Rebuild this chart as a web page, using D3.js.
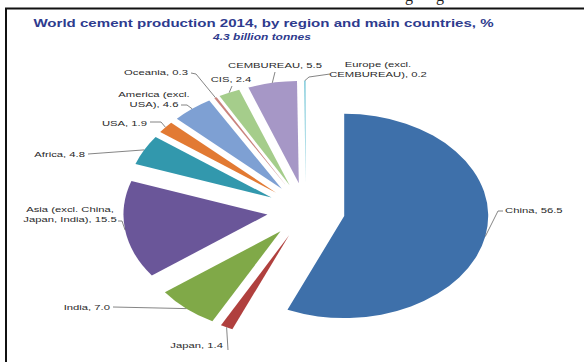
<!DOCTYPE html>
<html>
<head>
<meta charset="utf-8">
<script src="https://cdn.jsdelivr.net/npm/d3@7"></script>
<style>
    body { margin: 0; background: #fff; }
    svg { display: block; font-family: "Liberation Sans", Arial, sans-serif; }
</style>
</head>
<body>
<svg id="chart" width="584" height="362"></svg>
<script>
let regions = ["China", "Japan", "India", "Asia (excl. China, Japan, India)", "Africa", "USA",
    "America (excl. USA)", "Oceania", "CIS", "CEMBUREAU", "Europe (excl. CEMBUREAU)"];
let shares = [56.5, 1.4, 7.0, 15.5, 4.8, 1.9, 4.6, 0.3, 2.4, 5.5, 0.2];
let labelLines = [["China"], ["Japan"], ["India"], ["Asia (excl. China,", "Japan, India)"], ["Africa"], ["USA"],
    ["America (excl.", "USA)"], ["Oceania"], ["CIS"], ["CEMBUREAU"], ["Europe (excl.", "CEMBUREAU)"]];
let colors = ["#3e70aa", "#b0403e", "#80a948", "#6a5699", "#3298ad", "#e27a33",
    "#7ea0d3", "#c9837d", "#a5cd8b", "#a697c6", "#92d2e0"];

let title = "World cement production 2014, by region and main countries, %";
let subtitle = "4.3 billion tonnes";

// where each label sits and the bends of its leader line (screen px)
let labelPos = [
    { x: 505, y: 213, anchor: "start", bend: [[498, 211], [503, 211]] },
    { x: 223, y: 348, anchor: "end", bend: [[228, 350]] },
    { x: 110, y: 310, anchor: "end", bend: [[113, 307]] },
    { x: 70, y: 212, anchor: "middle", bend: [[122, 221], [118, 221]] },
    { x: 85, y: 157, anchor: "end", bend: [[88, 154]] },
    { x: 147, y: 126, anchor: "end", bend: [[161, 122], [150, 122]] },
    { x: 154, y: 97, anchor: "middle", bend: [[187, 105], [181, 105]] },
    { x: 188, y: 75, anchor: "end", bend: [[196, 74], [191, 73]] },
    { x: 231, y: 82, anchor: "middle", bend: [[232, 86]] },
    { x: 275, y: 68, anchor: "middle", bend: [[275, 72]] },
    { x: 378, y: 67, anchor: "middle", bend: [[309, 77], [330, 74]] }
];

function render() {
    let svg = d3.select("#chart");
    let stretch = 1.41;      // the source picture is stretched sideways
    let k = 1 / stretch;     // so the pie is squashed vertically
    let cx = 306, cy = 210.4, R = 144, explode = 39;

    svg.append("rect").attr("width", 584).attr("height", 362).attr("fill", "#fff");

    // frame of the scanned page
    svg.append("line").attr("x1", 5).attr("x2", 584).attr("y1", 8.5).attr("y2", 8.5)
        .attr("stroke", "#111").attr("stroke-width", 2);
    svg.append("line").attr("x1", 6).attr("x2", 6).attr("y1", 8).attr("y2", 362)
        .attr("stroke", "#111").attr("stroke-width", 2);

    // bits of the previous text line, cut off
    let cut = svg.append("text").attr("y", 1).attr("font-family", "Liberation Serif, serif")
        .attr("font-size", 16).attr("fill", "#222");
    cut.append("tspan").attr("x", 405).text("g");
    cut.append("tspan").attr("x", 436).text("g");

    function stretchedText(x, y, anchor) {
        return svg.append("g")
            .attr("transform", "translate(" + x + "," + y + ") scale(" + stretch + ",1)")
            .append("text")
            .style("text-anchor", anchor);
    }

    stretchedText(263.5, 27, "middle")
        .attr("font-size", "10.7px").attr("font-weight", "bold").attr("fill", "#2e3b8e")
        .text(title);
    stretchedText(262, 40, "middle")
        .attr("font-size", "8.5px").attr("font-weight", "bold").attr("font-style", "italic")
        .attr("fill", "#2e3b8e")
        .text(subtitle);

    let pie = d3.pie().sort(null).value(d => d);
    let arcs = pie(shares);
    let arc = d3.arc().innerRadius(0).outerRadius(R);

    let g = svg.append("g")
        .attr("transform", "translate(" + cx + "," + cy + ") scale(1," + k + ")");

    g.selectAll("path")
        .data(arcs)
        .enter()
        .append("path")
        .attr("transform", d => {
            let m = (d.startAngle + d.endAngle) / 2;
            return "translate(" + (Math.sin(m) * explode) + "," + (-Math.cos(m) * explode) + ")";
        })
        .attr("d", arc)
        .attr("fill", (d, i) => colors[i]);

    // leader lines from slice rim to label
    let line = d3.line();
    svg.selectAll(".leader")
        .data(arcs)
        .enter()
        .append("path")
        .classed("leader", true)
        .attr("d", (d, i) => {
            let m = (d.startAngle + d.endAngle) / 2;
            let rim = [cx + Math.sin(m) * (R + explode), cy - Math.cos(m) * (R + explode) * k];
            return line([rim].concat(labelPos[i].bend));
        })
        .attr("fill", "none")
        .attr("stroke", "#666")
        .attr("stroke-width", 0.8);

    arcs.forEach((d, i) => {
        let p = labelPos[i];
        let t = stretchedText(p.x, p.y, p.anchor)
            .attr("font-size", "8px")
            .attr("fill", "#2a2a2a");
        let lines = labelLines[i];
        lines.forEach((s, j) => {
            let txt = j == lines.length - 1 ? s + ", " + d.data.toFixed(1) : s;
            t.append("tspan").attr("x", 0).attr("dy", j == 0 ? 0 : 10).text(txt);
        });
    });
}

document.addEventListener('DOMContentLoaded', (event) => {
    render();
});
</script>
</body>
</html>
